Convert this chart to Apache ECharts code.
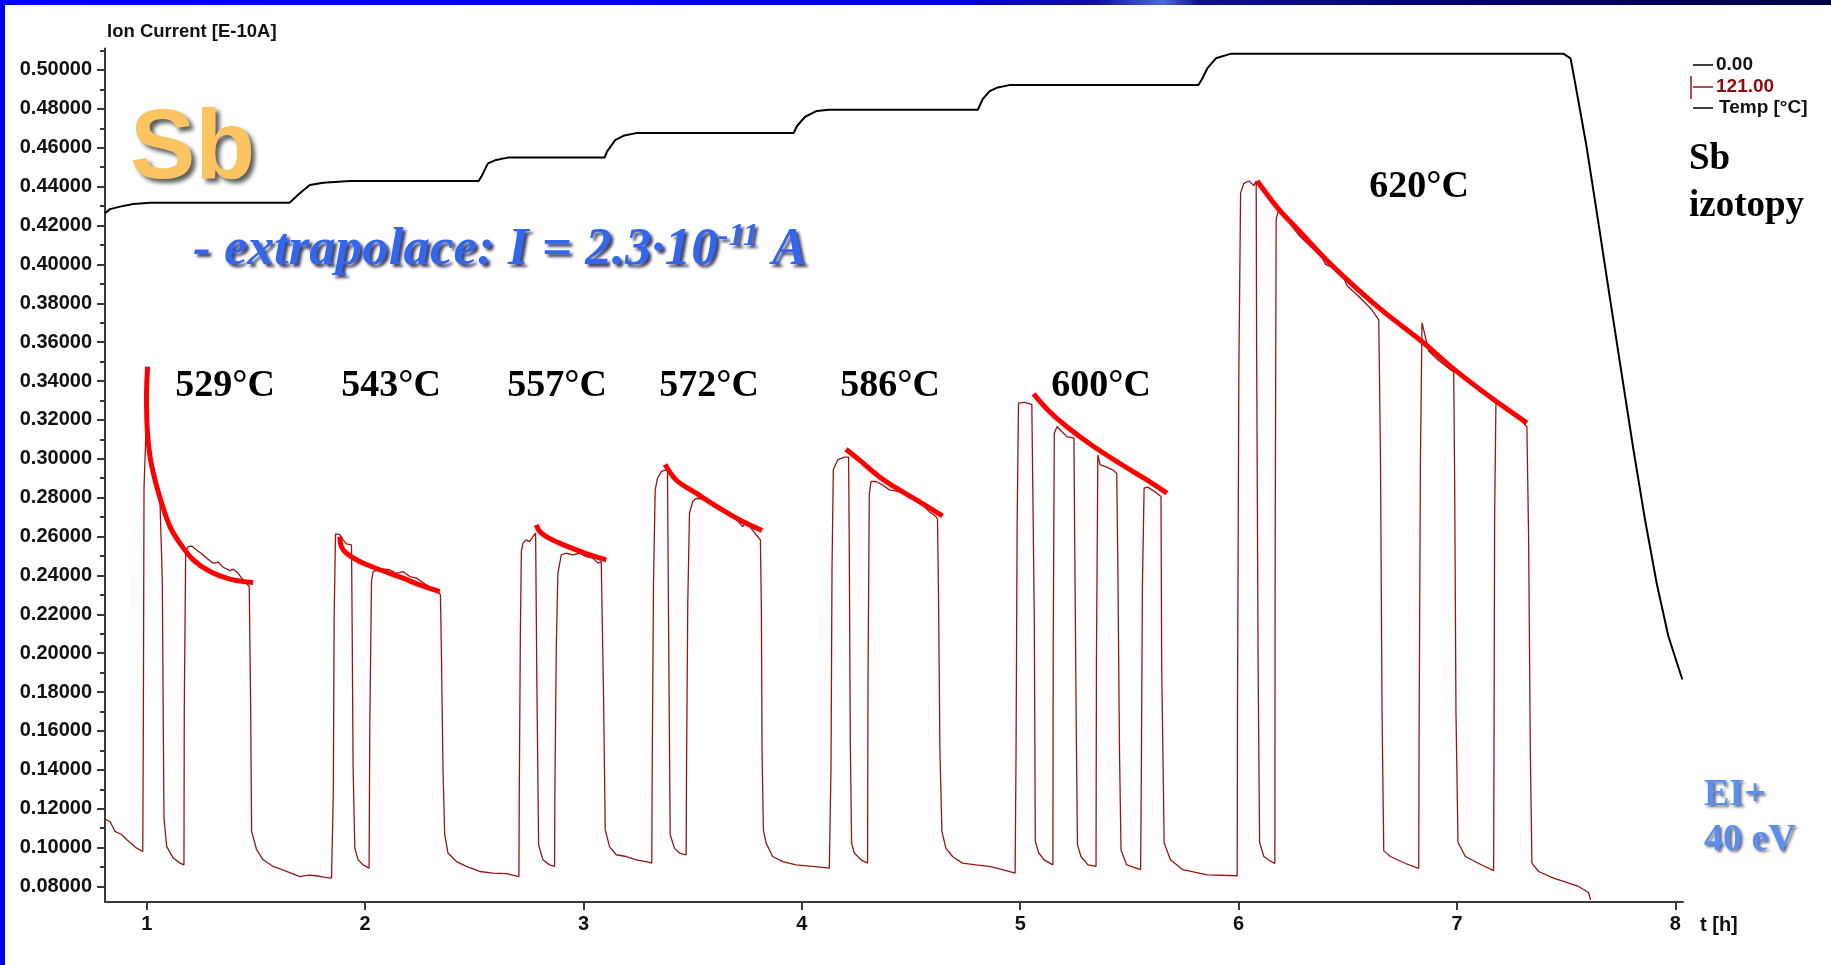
<!DOCTYPE html>
<html>
<head>
<meta charset="utf-8">
<script src="https://cdn.jsdelivr.net/npm/echarts@6/dist/echarts.min.js"></script>
<style>
html,body{margin:0;padding:0;background:#fff;}
#chart{width:1831px;height:965px;}
</style>
</head>
<body>
<div id="chart"></div>
<script>
// ---------- data ----------
const xTickLabels = ['1','2','3','4','5','6','7','8'];
const yTickLabels = ['0.08000','0.10000','0.12000','0.14000','0.16000','0.18000','0.20000','0.22000','0.24000','0.26000','0.28000','0.30000','0.32000','0.34000','0.36000','0.38000','0.40000','0.42000','0.44000','0.46000','0.48000','0.50000'];
const yMinorTicks = [0.09,0.11,0.13,0.15,0.17,0.19,0.21,0.23,0.25,0.27,0.29,0.31,0.33,0.35,0.37,0.39,0.41,0.43,0.45,0.47,0.49,0.51];

// ion current, mass 121 [E-10A] vs time [h]
const ion121 = [
 [0.809,0.1146],[0.832,0.1134],[0.855,0.1083],[0.886,0.1066],[0.909,0.104],[0.954,0.0997],[0.982,0.098],
 [0.9845,0.1606],[0.9877,0.2854],[0.9954,0.2857],[0.997,0.315],[1.0,0.3149],[1.015,0.2994],[1.038,0.2874],[1.061,0.2772],[1.069,0.2763],
 [1.0714,0.2377],[1.076,0.1606],[1.0792,0.1151],[1.0915,0.1005],[1.1217,0.0946],[1.1524,0.092],[1.1706,0.0911],
 [1.172,0.1709],[1.1784,0.2523],[1.1903,0.2548],[1.2059,0.2551],[1.2287,0.2531],[1.2516,0.2511],[1.2745,0.2489],[1.3047,0.2463],[1.3275,0.2468],[1.3504,0.2442],[1.3811,0.2425],[1.3962,0.2432],[1.419,0.2411],[1.4346,0.2386],[1.4694,0.2343],
 [1.4758,0.1743],[1.4803,0.1083],[1.5032,0.0989],[1.5334,0.0937],[1.5791,0.0903],[1.6405,0.0877],[1.7013,0.0851],[1.74,0.0858],[1.7777,0.0855],[1.81,0.0848],[1.8463,0.0843],[1.8536,0.0845],
 [1.8546,0.129],[1.8582,0.2171],[1.8646,0.2614],[1.8843,0.261],[1.8994,0.2583],[1.9149,0.2562],[1.9378,0.2557],
 [1.9406,0.2171],[1.9451,0.1409],[1.9529,0.0997],[1.968,0.0937],[1.9909,0.0911],[2.0183,0.0894],
 [2.0215,0.1623],[2.0293,0.2368],[2.0366,0.242],[2.0595,0.2429],[2.0901,0.2432],[2.113,0.2429],[2.1437,0.2411],[2.1739,0.242],[2.2045,0.2394],[2.2352,0.2386],[2.2809,0.2351],[2.334,0.2317],[2.345,0.23],
 [2.3495,0.2],[2.3569,0.1391],[2.3646,0.1066],[2.3797,0.0972],[2.4181,0.0928],[2.4639,0.0903],[2.5247,0.0877],[2.5856,0.0869],[2.6469,0.0866],[2.7045,0.0851],
 [2.706,0.1263],[2.7109,0.2086],[2.7155,0.2523],[2.7228,0.2566],[2.7384,0.2583],[2.7535,0.2574],[2.7686,0.26],[2.7809,0.2617],
 [2.7869,0.1811],[2.7946,0.1014],[2.8143,0.0937],[2.8449,0.0911],[2.8678,0.0903],
 [2.869,0.128],[2.8756,0.2034],[2.8829,0.2411],[2.8984,0.2506],[2.9213,0.2514],[2.9515,0.2506],[2.9822,0.2514],[3.0128,0.2497],[3.043,0.2489],[3.0659,0.2463],[3.0814,0.2471],[3.0887,0.2463],
 [3.0919,0.1777],[3.0997,0.1091],[3.1194,0.1005],[3.15,0.0963],[3.1958,0.0954],[3.2415,0.0937],[3.2873,0.0928],[3.3129,0.092],
 [3.3147,0.14],[3.3207,0.236],[3.3285,0.284],[3.339,0.29],[3.3573,0.2935],[3.3847,0.2945],
 [3.3907,0.2],[3.3971,0.1066],[3.4167,0.0997],[3.4396,0.0972],[3.4703,0.0963],
 [3.472,0.14],[3.4776,0.2257],[3.4854,0.272],[3.5005,0.278],[3.516,0.2797],[3.5618,0.2789],[3.6226,0.2754],[3.6835,0.2711],[3.7292,0.2651],[3.7447,0.2677],[3.7905,0.2609],[3.8102,0.2583],
 [3.8147,0.2223],[3.8179,0.1486],[3.8239,0.1091],[3.8362,0.1023],[3.8664,0.0954],[3.9122,0.0928],[3.9735,0.0911],[4.0494,0.0903],[4.1258,0.0894],
 [4.1336,0.1417],[4.1381,0.2429],[4.1441,0.2943],[4.1638,0.2994],[4.1944,0.3008],[4.2141,0.3008],
 [4.2173,0.2514],[4.2219,0.1545],[4.2278,0.1023],[4.2402,0.0972],[4.2708,0.0937],[4.301,0.092],
 [4.303,0.1863],[4.3088,0.2814],[4.3166,0.2883],[4.3394,0.2883],[4.3696,0.2866],[4.4003,0.284],[4.446,0.2831],[4.4918,0.2814],[4.5375,0.278],[4.5833,0.2728],[4.6139,0.2703],[4.6212,0.2689],
 [4.6258,0.23],[4.6322,0.1503],[4.6414,0.1083],[4.6597,0.0997],[4.6899,0.0954],[4.7356,0.092],[4.7969,0.0911],[4.8577,0.0903],[4.9186,0.0886],[4.9767,0.0869],
 [4.9808,0.1468],[4.9858,0.266],[4.9922,0.3286],[5.02,0.329],[5.0531,0.328],
 [5.0645,0.2171],[5.0691,0.1031],[5.0851,0.0972],[5.1094,0.0937],[5.1496,0.0911],
 [5.151,0.2009],[5.156,0.3131],[5.1688,0.3166],[5.1826,0.3149],[5.2137,0.3114],[5.2461,0.3106],
 [5.2493,0.26],[5.2571,0.1554],[5.2621,0.1014],[5.2781,0.0954],[5.3102,0.0911],[5.3472,0.0903],
 [5.349,0.1958],[5.3554,0.302],[5.3664,0.2969],[5.3907,0.296],[5.4227,0.2943],[5.4419,0.2926],
 [5.4469,0.2463],[5.4547,0.1486],[5.4616,0.0988],[5.4872,0.0911],[5.5512,0.0886],
 [5.5545,0.1357],[5.5595,0.2343],[5.5673,0.2849],[5.5837,0.2854],[5.6157,0.2831],[5.6446,0.2806],
 [5.6478,0.1932],[5.6592,0.1023],[5.688,0.0937],[5.7443,0.0886],[5.8568,0.086],[5.9936,0.0855],
 [5.995,0.1744],[6.0013,0.3469],[6.0091,0.4368],[6.0242,0.4417],[6.0471,0.4429],[6.07,0.4405],[6.0805,0.4429],
 [6.0825,0.3579],[6.0896,0.1902],[6.0961,0.1027],[6.1157,0.0954],[6.1464,0.093],[6.166,0.0918],
 [6.1675,0.2558],[6.172,0.4235],[6.1844,0.4283],[6.2758,0.415],[6.3824,0.4035],[6.398,0.4],[6.4282,0.3985],[6.474,0.395],[6.4968,0.389],[6.5503,0.3835],[6.6112,0.3765],[6.6418,0.3715],
 [6.6496,0.302],[6.6569,0.1695],[6.6647,0.0983],[6.6953,0.0954],[6.764,0.0918],[6.8248,0.0893],
 [6.8265,0.1574],[6.8326,0.2995],[6.8399,0.37],[6.8706,0.3554],[6.9163,0.3506],[6.985,0.3445],
 [6.9895,0.2874],[6.9954,0.1695],[7.0046,0.1027],[7.0384,0.0954],[7.0993,0.0918],[7.1679,0.0881],
 [7.1695,0.1489],[7.1725,0.2704],[7.1784,0.3287],[7.2214,0.3263],[7.2672,0.3226],[7.3202,0.3165],
 [7.328,0.2594],[7.3358,0.1501],[7.3431,0.092],[7.3737,0.0877],[7.4424,0.0843],[7.488,0.0826],[7.5567,0.08],[7.6025,0.0769],[7.6116,0.0731]
];

// temperature [°C] vs time [h]
const tempTime = [0.809,0.832,0.878,0.939,1.015,1.654,1.701,1.747,1.808,1.93,2.52,2.536,2.5625,2.6,2.653,3.097,3.107,3.145,3.1875,3.241,3.962,3.978,4.015,4.069,4.122,4.806,4.828,4.86,4.897,4.95,5.816,5.832,5.859,5.896,5.966,7.487,7.52,7.54,7.593,7.647,7.7,7.754,7.808,7.861,7.915,7.968,8.032];
const tempValue = [523.6,526.1,527.6,529.2,530.0,530.0,535.7,540.7,542.0,543.1,543.1,546.6,553.7,555.8,557.2,557.2,560.7,567.8,570.6,572.0,572.0,576.3,581.9,585.4,586.1,586.1,592.5,597.4,599.6,601.0,601.0,604.5,611.6,617.2,620.0,620.0,617.2,603.1,564.2,518.4,472.6,426.7,380.9,338.6,299.8,268.1,242.0];

// extrapolation fits (red curves)
const fit529 = [[1.004,0.3474],[0.999,0.3317],[1.0027,0.3149],[1.0151,0.3012],[1.038,0.2891],[1.0686,0.2771],[1.1066,0.2651],[1.1524,0.2565],[1.2132,0.248],[1.2896,0.242],[1.381,0.2381],[1.4877,0.2363]];
const fit543 = [[1.8843,0.26],[1.892,0.2548],[1.915,0.2514],[1.9758,0.2471],[2.0673,0.2429],[2.1739,0.2386],[2.2502,0.2351],[2.3417,0.2317]];
const fit557 = [[2.7841,0.266],[2.7992,0.2626],[2.8298,0.26],[2.8907,0.2566],[2.9671,0.2531],[3.043,0.25],[3.1043,0.248]];
const fit572 = [[3.3738,0.297],[3.4245,0.2891],[3.516,0.2823],[3.6226,0.2746],[3.7292,0.2677],[3.818,0.2631]];
const fit586 = [[4.2022,0.3049],[4.263,0.2994],[4.3545,0.2908],[4.446,0.284],[4.5375,0.278],[4.6441,0.2706]];
const fit600 = [[5.0613,0.3334],[5.1336,0.3243],[5.2136,0.3165],[5.3262,0.3071],[5.4547,0.2977],[5.5672,0.29],[5.672,0.2823]];
const fit620 = [[6.0851,0.4429],[6.1844,0.4283],[6.2758,0.4174],[6.398,0.4028],[6.5352,0.3882],[6.6725,0.3749],[6.84,0.3603],[6.9772,0.3469],[7.16,0.3311],[7.3201,0.3185]];

const tempLabels = ['529°C','543°C','557°C','572°C','586°C','600°C','620°C'];

// ---------- chart ----------
const chart = echarts.init(document.getElementById('chart'), null, {renderer:'canvas'});
const xTickValues = xTickLabels.map(Number);
const yTickValues = yTickLabels.map(Number);
const AX = '#3a3a3a';
const SANS = '"Liberation Sans", Arial, sans-serif';
const SERIF = '"Liberation Serif", "Times New Roman", serif';

const fits = [fit529, fit543, fit557, fit572, fit586, fit600, fit620];
const fitSeries = fits.map((d, i) => ({
  type:'line', name:'fit ' + tempLabels[i], data:d, xAxisIndex:0, yAxisIndex:0,
  showSymbol:false, smooth:0.35, lineStyle:{color:'#ff0000', width:5}, z:5, silent:true
}));

const tempPositions = [[225,386],[391,386],[557,386],[709,386],[890,386],[1101,386],[1419,187]];
const tempText = tempLabels.map((s, i) => ({
  type:'text', x:tempPositions[i][0], y:tempPositions[i][1], z:100,
  style:{text:s, font:'bold 38px ' + SERIF, fill:'#000', align:'center', verticalAlign:'middle'}
}));

const option = {
  animation:false,
  backgroundColor:'#ffffff',
  grid:{left:105, right:148, top:48.6, bottom:63, containLabel:false},
  xAxis:{
    type:'value', min:0.809, max:8.035,
    axisLine:{show:true, onZero:false, lineStyle:{color:AX, width:2}},
    axisTick:{show:true, customValues:xTickValues, length:8, lineStyle:{color:AX, width:2}},
    axisLabel:{customValues:xTickValues, formatter:(v)=>xTickLabels[xTickValues.indexOf(Math.round(v))],
      margin:12, fontFamily:SANS, fontWeight:'bold', fontSize:20, color:'#111'},
    splitLine:{show:false}
  },
  yAxis:[
    {
      type:'value', min:0.072, max:0.511, position:'left',
      axisLine:{show:true, onZero:false, lineStyle:{color:AX, width:2}},
      axisTick:{show:true, customValues:yTickValues, length:8, lineStyle:{color:AX, width:2}},
      axisLabel:{customValues:yTickValues, formatter:(v)=>{
          let k = 0, best = 1;
          yTickValues.forEach((t,i)=>{ if (Math.abs(t-v) < best) { best = Math.abs(t-v); k = i; } });
          return yTickLabels[k];
        },
        margin:13, fontFamily:SANS, fontWeight:'bold', fontSize:20, color:'#111'},
      splitLine:{show:false}
    },
    { type:'value', min:107.6, max:623.05, show:false },
    {
      type:'value', min:0.072, max:0.511, position:'left',
      axisLine:{show:false},
      axisTick:{show:true, customValues:yMinorTicks, length:5, lineStyle:{color:AX, width:2}},
      axisLabel:{show:false},
      splitLine:{show:false}
    }
  ],
  series:[
    {
      type:'line', name:'Temp [°C]', yAxisIndex:1,
      data: tempTime.map((t,i)=>[t, tempValue[i]]),
      showSymbol:false, lineStyle:{color:'#000', width:2}, z:3, silent:true
    },
    {
      type:'line', name:'121.00', yAxisIndex:0, data:ion121,
      showSymbol:false, lineStyle:{color:'#941616', width:1.3}, z:4, silent:true
    }
  ].concat(fitSeries),
  graphic:[
    // frame
    {type:'rect', shape:{x:0, y:0, width:1831, height:5}, z:200,
      style:{fill:new echarts.graphic.LinearGradient(0,0,1,0,[
        {offset:0, color:'#0000ff'},{offset:0.52, color:'#0000d0'},
        {offset:0.6, color:'#1010a0'},{offset:0.635, color:'#4a6ad8'},{offset:0.655, color:'#101090'},
        {offset:0.8, color:'#000070'},{offset:1, color:'#000045'}])}},
    {type:'rect', shape:{x:0, y:0, width:5, height:965}, z:200, style:{fill:'#0000ff'}},
    // axis titles
    {type:'text', x:107, y:32, z:100, style:{text:'Ion Current [E-10A]', font:'bold 18.5px ' + SANS, fill:'#111', align:'left', verticalAlign:'middle'}},
    {type:'text', x:1700, y:925, z:100, style:{text:'t [h]', font:'bold 20px ' + SANS, fill:'#111', align:'left', verticalAlign:'middle'}},
    // legend
    {type:'line', shape:{x1:1693, y1:65, x2:1713, y2:65}, z:100, style:{stroke:'#000', lineWidth:1.5}},
    {type:'text', x:1716, y:65, z:100, style:{text:'0.00', font:'bold 19px ' + SANS, fill:'#111', align:'left', verticalAlign:'middle'}},
    {type:'line', shape:{x1:1691, y1:76, x2:1691, y2:99}, z:100, style:{stroke:'#941616', lineWidth:1.5}},
    {type:'line', shape:{x1:1693, y1:87, x2:1713, y2:87}, z:100, style:{stroke:'#941616', lineWidth:1.5}},
    {type:'text', x:1716, y:87, z:100, style:{text:'121.00', font:'bold 19px ' + SANS, fill:'#8b0a0a', align:'left', verticalAlign:'middle'}},
    {type:'line', shape:{x1:1693, y1:108, x2:1713, y2:108}, z:100, style:{stroke:'#000', lineWidth:1.5}},
    {type:'text', x:1719, y:108, z:100, style:{text:'Temp [°C]', font:'bold 19px ' + SANS, fill:'#111', align:'left', verticalAlign:'middle'}},
    // big annotations
    {type:'text', x:130, y:151, z:100, style:{text:'Sb', font:'bold 98px ' + SANS, fill:'#fcc461', align:'left', verticalAlign:'middle',
      textShadowColor:'rgba(40,40,40,0.75)', textShadowBlur:4, textShadowOffsetX:4, textShadowOffsetY:4}},
    {type:'text', x:193, y:250, z:100, style:{
      text:'{a|- extrapolace: I = 2.3·10}{s|-11}{a| A}',
      fill:'#3366ee', align:'left', verticalAlign:'middle',
      textShadowColor:'rgba(20,20,60,0.8)', textShadowBlur:3, textShadowOffsetX:3, textShadowOffsetY:3,
      rich:{
        a:{font:'italic bold 53px ' + SERIF, fill:'#3366ee', lineHeight:58,
           textShadowColor:'rgba(20,20,60,0.8)', textShadowBlur:3, textShadowOffsetX:3, textShadowOffsetY:3},
        s:{font:'italic bold 32px ' + SERIF, fill:'#3366ee', verticalAlign:'top', lineHeight:58,
           textShadowColor:'rgba(20,20,60,0.8)', textShadowBlur:3, textShadowOffsetX:3, textShadowOffsetY:3}
      }}},
    {type:'text', x:1689, y:159, z:100, style:{text:'Sb', font:'bold 37px ' + SERIF, fill:'#000', align:'left', verticalAlign:'middle'}},
    {type:'text', x:1689, y:206, z:100, style:{text:'izotopy', font:'bold 37px ' + SERIF, fill:'#000', align:'left', verticalAlign:'middle'}},
    {type:'text', x:1704, y:795, z:100, style:{text:'EI+', font:'bold 38px ' + SERIF, fill:'#5a8ef0', align:'left', verticalAlign:'middle',
      textShadowColor:'rgba(30,30,50,0.7)', textShadowBlur:3, textShadowOffsetX:2, textShadowOffsetY:2}},
    {type:'text', x:1704, y:840, z:100, style:{text:'40 eV', font:'bold 38px ' + SERIF, fill:'#5a8ef0', align:'left', verticalAlign:'middle',
      textShadowColor:'rgba(30,30,50,0.7)', textShadowBlur:3, textShadowOffsetX:2, textShadowOffsetY:2}}
  ].concat(tempText)
};
chart.setOption(option);
</script>
</body>
</html>
